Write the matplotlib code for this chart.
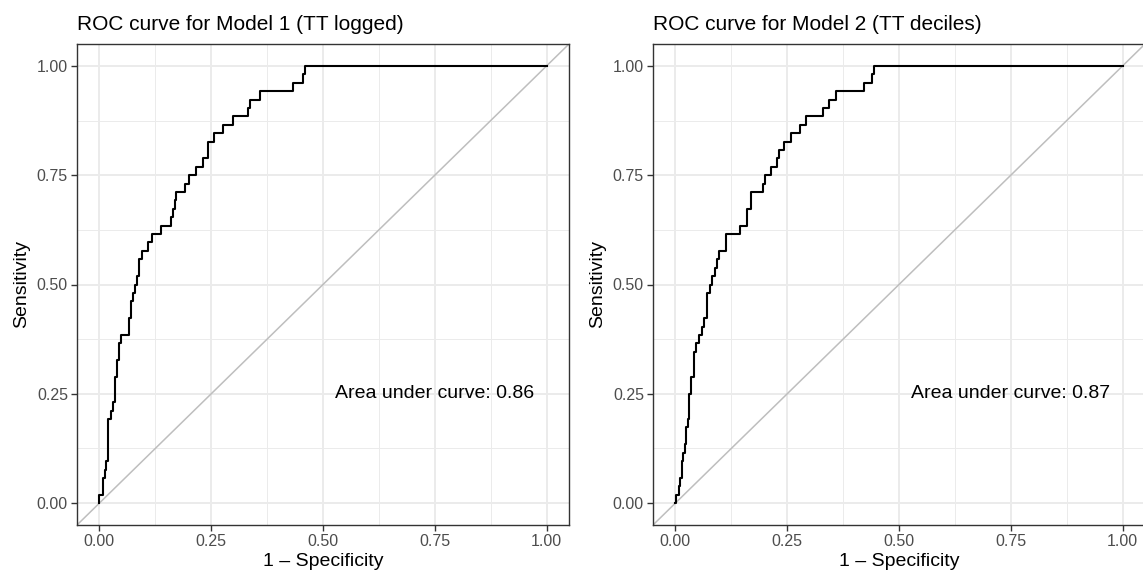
import numpy as np
import matplotlib.pyplot as plt
from matplotlib.ticker import FixedLocator, FormatStrFormatter

plt.rcParams['font.family'] = ['Liberation Sans', 'DejaVu Sans']

N_POS = 52

# Model 1 (TT logged): 1 - specificity where each step up happens, and positives counted so far
fpr_1 = [0.0, 0.0, 0.009, 0.012, 0.015, 0.020, 0.025, 0.030, 0.034, 0.039, 0.044, 0.048,
         0.066, 0.070, 0.075, 0.079, 0.084, 0.088, 0.095, 0.109, 0.117, 0.137, 0.161,
         0.164, 0.168, 0.172, 0.191, 0.200, 0.215, 0.232, 0.244, 0.257, 0.277, 0.298,
         0.333, 0.336, 0.360, 0.433, 0.455, 0.460, 1.0]
hits_1 = [0, 1, 3, 4, 5, 10, 11, 12, 15, 17, 19, 20,
          22, 24, 25, 26, 27, 29, 30, 31, 32, 33, 34,
          35, 36, 37, 38, 39, 40, 41, 43, 44, 45, 46,
          47, 48, 49, 50, 51, 52, 52]

# Model 2 (TT deciles)
fpr_2 = [0.0, 0.0015, 0.009, 0.011, 0.014, 0.018, 0.021, 0.024, 0.028, 0.031, 0.036, 0.042,
         0.047, 0.052, 0.059, 0.065, 0.070, 0.077, 0.083, 0.089, 0.093, 0.098, 0.113,
         0.145, 0.160, 0.169, 0.195, 0.200, 0.214, 0.227, 0.231, 0.242, 0.258, 0.279,
         0.293, 0.330, 0.344, 0.359, 0.422, 0.440, 0.444, 1.0]
hits_2 = [0, 1, 2, 3, 5, 6, 7, 9, 10, 13, 15, 18,
          19, 20, 21, 22, 25, 26, 27, 28, 29, 30, 32,
          33, 35, 37, 38, 39, 40, 41, 42, 43, 44, 45,
          46, 47, 48, 49, 50, 51, 52, 52]

titles = ["ROC curve for Model 1 (TT logged)", "ROC curve for Model 2 (TT deciles)"]
auc_labels = ["Area under curve: 0.86", "Area under curve: 0.87"]
ticks = [0.0, 0.25, 0.5, 0.75, 1.0]
minor_ticks = [0.125, 0.375, 0.625, 0.875]

fig = plt.figure(figsize=(11.43, 5.75), dpi=100)
ax1 = fig.add_axes([77 / 1143, 1 - 525 / 575, 492 / 1143, 481 / 575])
ax2 = fig.add_axes([653 / 1143, 1 - 525 / 575, 492 / 1143, 481 / 575])

curves = [(fpr_1, hits_1), (fpr_2, hits_2)]
for ax, (fpr, hits), title, auc in zip([ax1, ax2], curves, titles, auc_labels):
    tpr = np.array(hits) / N_POS
    ax.set_xlim(-0.05, 1.05)
    ax.set_ylim(-0.05, 1.05)

    # grid like theme_bw
    ax.xaxis.set_major_locator(FixedLocator(ticks))
    ax.yaxis.set_major_locator(FixedLocator(ticks))
    ax.xaxis.set_minor_locator(FixedLocator(minor_ticks))
    ax.yaxis.set_minor_locator(FixedLocator(minor_ticks))
    ax.grid(which='major', color='#EBEBEB', linewidth=1.4)
    ax.grid(which='minor', color='#EBEBEB', linewidth=0.7)
    ax.tick_params(which='minor', length=0)
    ax.set_axisbelow(True)

    ax.axline((0, 0), slope=1, color='#BEBEBE', linewidth=1.1, zorder=2)
    ax.plot(fpr, tpr, drawstyle='steps-post', color='black', linewidth=1.5, zorder=3)

    ax.text(0.75, 0.25, auc, ha='center', va='center', fontsize=14)

    ax.xaxis.set_major_formatter(FormatStrFormatter('%.2f'))
    ax.yaxis.set_major_formatter(FormatStrFormatter('%.2f'))
    ax.tick_params(which='major', length=4, width=1, color='#333333',
                   labelcolor='#4D4D4D', labelsize=11.5, pad=2.5)
    for s in ax.spines.values():
        s.set_color('#333333')
        s.set_linewidth(1.0)

    ax.set_xlabel("1 \u2013 Specificity", fontsize=14, labelpad=3)
    ax.set_ylabel("Sensitivity", fontsize=14, labelpad=5)
    ax.set_title(title, loc='left', fontsize=15, pad=10)

fig.savefig("out.png", dpi=100)
